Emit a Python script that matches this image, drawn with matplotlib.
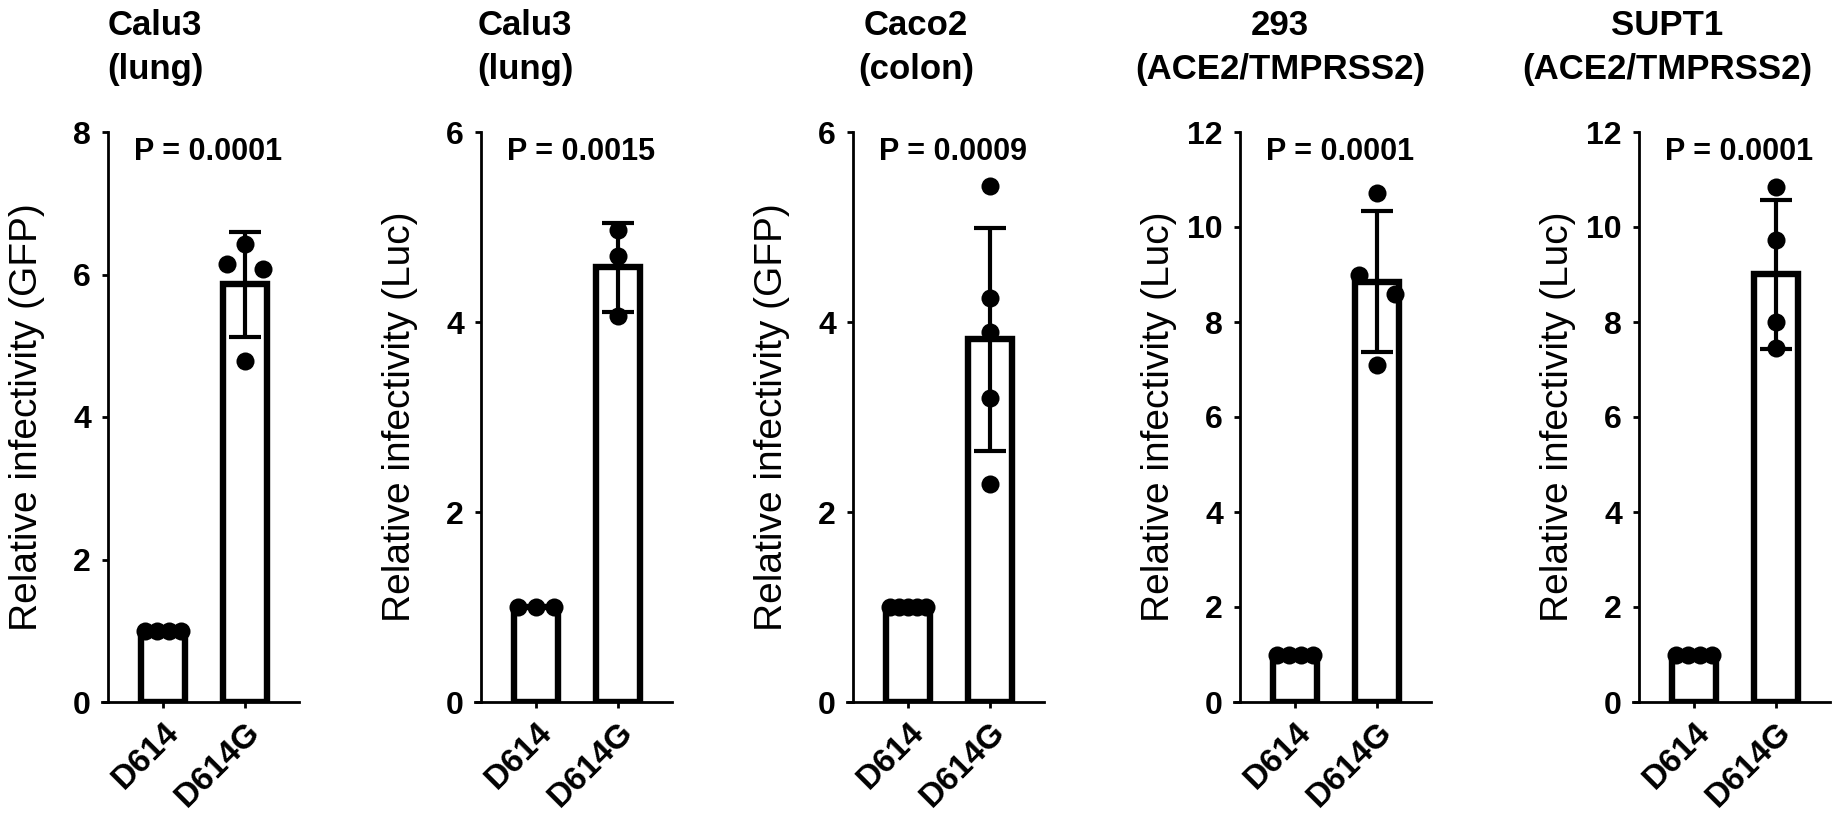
import numpy as np
import matplotlib.pyplot as plt

plt.rcParams['font.family'] = ['Liberation Sans', 'DejaVu Sans']
plt.rcParams['font.weight'] = 'bold'

# ---- data ----
groups = ['D614', 'D614G']
titles_top = ['Calu3', 'Calu3', 'Caco2', '293', 'SUPT1']
titles_bottom = ['(lung)', '(lung)', '(colon)', '(ACE2/TMPRSS2)', '(ACE2/TMPRSS2)']
ylabels = ['Relative infectivity (GFP)', 'Relative infectivity (Luc)',
           'Relative infectivity (GFP)', 'Relative infectivity (Luc)',
           'Relative infectivity (Luc)']
p_values = ['P = 0.0001', 'P = 0.0015', 'P = 0.0009', 'P = 0.0001', 'P = 0.0001']
y_max = [8, 6, 6, 12, 12]

d614_calu3_gfp = [1.0, 1.0, 1.0, 1.0]
d614g_calu3_gfp = [6.43, 6.15, 6.08, 4.78]
d614_calu3_luc = [1.0, 1.0, 1.0]
d614g_calu3_luc = [4.97, 4.70, 4.06]
d614_caco2 = [1.0, 1.0, 1.0, 1.0, 1.0]
d614g_caco2 = [5.43, 4.25, 3.90, 3.20, 2.30]
d614_293 = [1.0, 1.0, 1.0, 1.0]
d614g_293 = [10.72, 8.99, 8.59, 7.10]
d614_supt1 = [1.0, 1.0, 1.0, 1.0]
d614g_supt1 = [10.85, 9.72, 7.99, 7.46]

panels = [(d614_calu3_gfp, d614g_calu3_gfp), (d614_calu3_luc, d614g_calu3_luc),
          (d614_caco2, d614g_caco2), (d614_293, d614g_293), (d614_supt1, d614g_supt1)]

# ---- layout (pixels) ----
W, H = 1844, 835
d614_px = [163, 536, 908, 1295, 1694]
title_px = [155, 525, 916, 1280, 1667]
unit = 82.0
x_lo, x_hi = -0.74, 1.66
spine_x = -0.67
base_px, top_px = 702, 132


def spread(vals, px_per_unit, gap=19.5, half=0.22):
    # GraphPad-like: points that would overlap are spread sideways
    vals = np.asarray(vals, float)
    order = np.argsort(-vals)
    offs = np.zeros(len(vals))
    clusters = [[order[0]]]
    for i in order[1:]:
        if (vals[clusters[-1][-1]] - vals[i]) * px_per_unit < gap:
            clusters[-1].append(i)
        else:
            clusters.append([i])
    for c in clusters:
        if len(c) > 1:
            offs[c] = np.linspace(-half, half, len(c))
    return offs


fig = plt.figure(figsize=(W / 100, H / 100), dpi=100)

for k, (a, b) in enumerate(panels):
    left = (d614_px[k] + x_lo * unit) / W
    width = (x_hi - x_lo) * unit / W
    ax = fig.add_axes([left, (H - base_px) / H, width, (base_px - top_px) / H])
    ypx = (base_px - top_px) / y_max[k]

    for x, vals in enumerate((a, b)):
        vals = np.asarray(vals)
        m = vals.mean()
        sd = vals.std(ddof=1)
        ax.bar(x, m, width=0.54, facecolor='white', edgecolor='black',
               linewidth=4.6, zorder=2)
        ax.scatter(x + spread(vals, ypx), vals, s=13 ** 2, color='black',
                   zorder=4, clip_on=False, linewidths=0)
        if sd > 0:
            ax.errorbar(x, m, yerr=sd, fmt='none', ecolor='black',
                        elinewidth=3, capsize=11.5, capthick=3, zorder=5)

    ax.set_xlim(x_lo, x_hi)
    ax.set_ylim(0, y_max[k])
    ax.set_yticks(np.arange(0, y_max[k] + 1, 2))
    ax.set_xticks([0, 1])
    ax.set_xticklabels(groups, rotation=45, ha='right', rotation_mode='anchor',
                       fontsize=24)
    ax.tick_params(axis='y', length=4.3, width=2, pad=8, labelsize=23)
    ax.tick_params(axis='x', length=4.3, width=2, pad=6)
    for s in ('top', 'right'):
        ax.spines[s].set_visible(False)
    ax.spines['left'].set_position(('data', spine_x))
    ax.spines['left'].set_linewidth(2)
    ax.spines['bottom'].set_linewidth(2)
    ax.patch.set_alpha(0)

    ax.text(0.55, 0.951, p_values[k], transform=ax.get_xaxis_transform(),
            ha='center', va='baseline', fontsize=22)

    axis_px = d614_px[k] + spine_x * unit
    fig.text((axis_px - 81) / W, 1 - 417 / H, ylabels[k], rotation=90,
             ha='center', va='center', fontsize=28, fontweight='normal')
    fig.text(title_px[k] / W, 1 - 35 / H, titles_top[k], ha='center',
             va='baseline', fontsize=25)
    fig.text(title_px[k] / W, 1 - 79 / H, titles_bottom[k], ha='center',
             va='baseline', fontsize=25)

fig.savefig('out.png', dpi=100, facecolor='white')
